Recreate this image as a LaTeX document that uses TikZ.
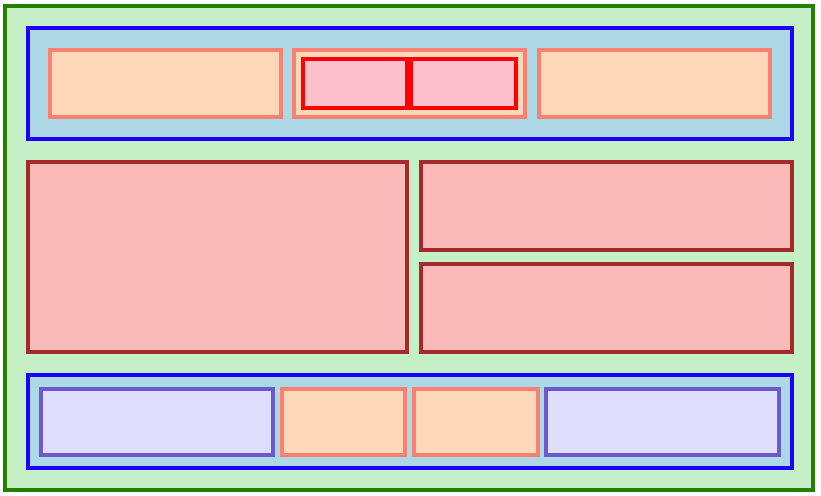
\documentclass[tikz,border=0pt]{standalone}
\definecolor{gfill}{HTML}{C5F0C5}
\definecolor{gline}{HTML}{267F00}
\definecolor{bline}{HTML}{1A00FF}
\definecolor{bfill}{HTML}{ADD8E6}
\definecolor{ofill}{HTML}{FCD8B8}
\definecolor{oline}{HTML}{FA8072}
\definecolor{pfill}{HTML}{FBC0CB}
\definecolor{pline}{HTML}{FF0000}
\definecolor{rfill}{HTML}{FBBABA}
\definecolor{rline}{HTML}{A52A2A}
\definecolor{lfill}{HTML}{E0DEFF}
\definecolor{lline}{HTML}{6A5ACD}
\newcommand\mkbox[6]{%
  \node[boxbase,#6,minimum width={(#4-#2)*1pt},minimum height={(#5-#3)*1pt}]
    (#1) at ({(#2+#4)/2},{-(#3+#5)/2}) {};}
\tikzset{
  boxbase/.style={rectangle,inner sep=0pt,outer sep=0pt,line width=4pt},
  greenbox/.style={fill=gfill,draw=gline},
  bluebox/.style={fill=bfill,draw=bline},
  orangebox/.style={fill=ofill,draw=oline},
  pinkbox/.style={fill=pfill,draw=pline},
  rosebox/.style={fill=rfill,draw=rline},
  lavbox/.style={fill=lfill,draw=lline},
}
\begin{document}
\begin{tikzpicture}[x=1pt,y=1pt]
\useasboundingbox (0,0) rectangle (821,-495);
\fill[white] (0,0) rectangle (821,-495);
\mkbox{outer}{5}{6}{813}{490}{greenbox}
\mkbox{topbar}{27.5}{28}{791.5}{139}{bluebox}
\mkbox{tl}{49.5}{50.5}{280.5}{117}{orangebox}
\mkbox{tm}{294}{50.5}{525}{117}{orangebox}
\mkbox{tml}{303}{59.5}{407}{108}{pinkbox}
\mkbox{tmr}{411}{59.5}{516}{108}{pinkbox}
\mkbox{tr}{538.5}{50.5}{769.5}{117}{orangebox}
\mkbox{big}{27.5}{162}{407}{352}{rosebox}
\mkbox{rt}{420.5}{162}{791.5}{250}{rosebox}
\mkbox{rb}{420.5}{264}{791.5}{352}{rosebox}
\mkbox{botbar}{27.5}{375}{791.5}{468}{bluebox}
\mkbox{bl}{40.5}{388.5}{273}{455}{lavbox}
\mkbox{bo1}{281.5}{388.5}{405}{455}{orangebox}
\mkbox{bo2}{414}{388.5}{537.5}{455}{orangebox}
\mkbox{br}{546}{388.5}{778.5}{455}{lavbox}
\end{tikzpicture}
\end{document}
